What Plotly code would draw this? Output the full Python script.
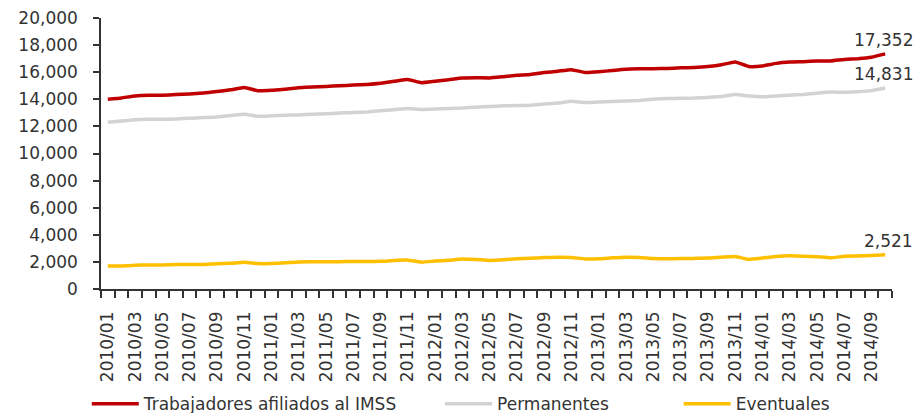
import plotly.graph_objects as go

months = [f"{y}/{m:02d}" for y in range(2010, 2015) for m in range(1, 13)][:58]

total = [
    14000, 14100, 14250, 14300, 14300, 14350, 14400, 14460, 14570, 14700, 14870, 14630,
    14660, 14750, 14850, 14910, 14950, 15000, 15050, 15100, 15190, 15330, 15460, 15230,
    15340, 15450, 15570, 15590, 15580, 15670, 15770, 15830, 15970, 16070, 16190, 15980,
    16030, 16130, 16220, 16250, 16260, 16280, 16320, 16350, 16420, 16550, 16760, 16420,
    16460, 16650, 16750, 16780, 16830, 16830, 16940, 17000, 17110, 17352,
]
permanentes = [
    12300, 12400, 12500, 12520, 12520, 12550, 12600, 12650, 12700, 12800, 12900, 12750,
    12780, 12820, 12850, 12900, 12930, 12980, 13020, 13070, 13150, 13230, 13330, 13250,
    13280, 13330, 13360, 13420, 13470, 13520, 13540, 13560, 13650, 13720, 13860, 13760,
    13800, 13830, 13870, 13920, 14010, 14050, 14070, 14090, 14140, 14200, 14360, 14240,
    14180, 14250, 14300, 14360, 14450, 14530, 14520, 14560, 14640, 14831,
]
eventuales = [
    1700, 1700, 1750, 1780, 1780, 1800, 1800, 1810, 1870, 1900, 1970, 1880,
    1880, 1930, 2000, 2010, 2020, 2020, 2030, 2030, 2040, 2100, 2130, 1980,
    2060, 2120, 2210, 2170, 2110, 2150, 2230, 2270, 2320, 2350, 2330, 2220,
    2230, 2300, 2350, 2330, 2250, 2230, 2250, 2260, 2280, 2350, 2400, 2180,
    2280, 2400, 2450, 2420, 2380, 2300, 2420, 2440, 2470, 2521,
]

series = [
    ("Trabajadores afiliados al IMSS", total, "#C00000"),
    ("Permanentes", permanentes, "#D3D3D3"),
    ("Eventuales", eventuales, "#FFC000"),
]

idx = list(range(len(months)))
font = "DejaVu Sans"
txt = "#333333"

fig = go.Figure()
pads = ["\u00a0" * 7, "\u00a0" * 12, ""]
for (name, vals, col), pad in zip(series, pads):
    fig.add_trace(go.Scatter(
        x=idx, y=vals, mode="lines", name=name + pad,
        line=dict(color=col, width=3.5, shape="spline", smoothing=0.4),
        hoverinfo="x+y",
    ))
    fig.add_annotation(
        x=idx[-1], y=vals[-1], text=f"{vals[-1]:,}", showarrow=False,
        xanchor="right", yanchor="bottom", xshift=30, yshift=2,
        font=dict(family=font, size=17, color=txt),
    )

# page body has an 8px margin, so the figure is sized/offset to compensate
fig.update_layout(
    width=916, height=405,
    margin=dict(l=93, r=32, t=10, b=124, autoexpand=False),
    paper_bgcolor="white", plot_bgcolor="white",
    font=dict(family=font, size=17, color=txt),
    showlegend=True,
    legend=dict(
        orientation="h", x=0.086, y=0.022, xanchor="left", yanchor="middle",
        xref="container", yref="container",
        bgcolor="rgba(0,0,0,0)",
        font=dict(family=font, size=17, color=txt),
        itemwidth=47, tracegroupgap=0,
    ),
    xaxis=dict(
        range=[-0.5, len(months) - 0.5],
        tickmode="array",
        tickvals=idx[::2], ticktext=months[::2],
        tickangle=-90, ticks="", ticklen=0,
        ticklabelstandoff=14, automargin=False,
        ticklabeloverflow="allow",
        showline=True, linecolor="#333333", linewidth=1.5,
        showgrid=False, zeroline=False,
        minor=dict(
            tickmode="array",
            tickvals=[i - 0.5 for i in range(len(months) + 1)],
            ticks="outside", ticklen=7, tickcolor="#333333", tickwidth=1.5,
            showgrid=False,
        ),
        tickfont=dict(family=font, size=17, color=txt),
    ),
    yaxis=dict(
        range=[0, 20000], dtick=2000, tickformat=",",
        ticks="outside", ticklen=6, tickcolor="#333333", tickwidth=1.5,
        ticklabelstandoff=12, automargin=False,
        ticklabeloverflow="allow",
        showline=True, linecolor="#333333", linewidth=1.5,
        showgrid=False, zeroline=False,
        tickfont=dict(family=font, size=17, color=txt),
    ),
)

fig.write_html("out.html")
